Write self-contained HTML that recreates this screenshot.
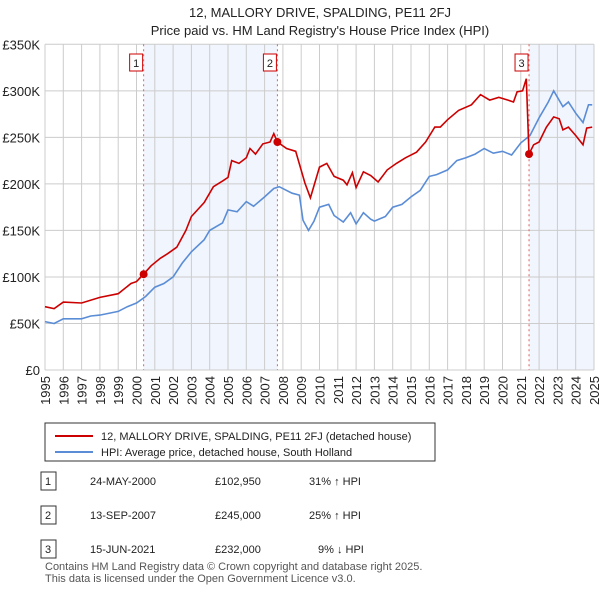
<!DOCTYPE html>
<html><head><meta charset="utf-8"><style>
body{margin:0;background:#fff;font-family:"Liberation Sans",sans-serif;}
svg text{font-family:"Liberation Sans",sans-serif;}
</style></head><body>
<svg id="c" width="600" height="590" xmlns="http://www.w3.org/2000/svg">
<text x="320" y="17" text-anchor="middle" font-size="13" fill="#222">12, MALLORY DRIVE, SPALDING, PE11 2FJ</text>
<text x="320" y="35" text-anchor="middle" font-size="13" fill="#222">Price paid vs. HM Land Registry's House Price Index (HPI)</text>
<g id="plot"></g>
<g>
<rect x="45" y="423" width="390" height="38" fill="#fff" stroke="#333"/>
<line x1="55" y1="436" x2="93" y2="436" stroke="#cc0000" stroke-width="2"/>
<text x="101" y="440" font-size="11" fill="#222">12, MALLORY DRIVE, SPALDING, PE11 2FJ (detached house)</text>
<line x1="55" y1="452" x2="93" y2="452" stroke="#5b8dd6" stroke-width="2"/>
<text x="101" y="456" font-size="11" fill="#222">HPI: Average price, detached house, South Holland</text>
</g>
<g id="tbl" font-size="11" fill="#222"></g>
<text x="45" y="570" font-size="11" fill="#555">Contains HM Land Registry data © Crown copyright and database right 2025.</text>
<text x="45" y="582" font-size="11" fill="#555">This data is licensed under the Open Government Licence v3.0.</text>
</svg>
<script>
const hpiT=[1995,1995.5,1996,1997,1997.5,1998,1999,1999.5,2000,2000.5,2001,2001.5,2002,2002.5,2003,2003.7,2004,2004.7,2005,2005.5,2006,2006.4,2007,2007.5,2007.8,2008.5,2008.9,2009.1,2009.4,2009.7,2010,2010.5,2010.8,2011.3,2011.7,2012,2012.4,2012.8,2013,2013.6,2014,2014.5,2015,2015.5,2016,2016.4,2017,2017.5,2018,2018.5,2019,2019.5,2020,2020.5,2021,2021.5,2022,2022.5,2022.8,2023.3,2023.6,2024,2024.4,2024.7,2024.9];
const hpiV=[52,50,55,55,58,59,63,68,72,79,89,93,100,115,127,140,150,158,172,170,181,176,186,195,197,190,188,161,150,160,175,178,166,159,169,157,169,162,160,165,175,178,186,193,208,210,215,225,228,232,238,233,235,231,244,252,271,288,300,283,288,276,266,285,285];
const ppT=[1995,1995.5,1996,1997,1998,1999,1999.7,2000,2000.39,2000.8,2001.3,2001.7,2002.2,2002.7,2003,2003.7,2004.2,2004.7,2005,2005.2,2005.6,2006,2006.2,2006.5,2006.9,2007.3,2007.5,2007.7,2008.2,2008.7,2009.2,2009.5,2010,2010.4,2010.8,2011.3,2011.5,2011.8,2012,2012.4,2012.8,2013.2,2013.7,2014.2,2014.7,2015.3,2015.8,2016.3,2016.6,2017,2017.6,2018.3,2018.8,2019.3,2019.8,2020.3,2020.6,2020.8,2021.1,2021.3,2021.45,2021.7,2022,2022.4,2022.8,2023.1,2023.3,2023.6,2024,2024.4,2024.6,2024.9];
const ppV=[68,66,73,72,78,82,93,95,103,112,120,125,132,150,165,180,197,203,207,225,222,228,238,232,243,245,254,245,238,235,201,185,218,222,208,204,199,212,196,213,209,202,215,222,228,234,245,261,261,269,279,285,296,290,293,290,288,299,300,313,232,242,245,261,272,270,258,261,252,242,260,261];
const saleT=[2000.39,2007.7,2021.45];
const saleV=[102.95,245,232];
const saleLabels=["1","2","3"];
const saleDates=["24-MAY-2000","13-SEP-2007","15-JUN-2021"];
const salePrices=["£102,950","£245,000","£232,000"];
const saleHpi=["31% ↑ HPI","25% ↑ HPI","9% ↓ HPI"];
const yTicks=[0,50,100,150,200,250,300,350];
const yTickLabels=["£0","£50K","£100K","£150K","£200K","£250K","£300K","£350K"];
const xYears=[1995,1996,1997,1998,1999,2000,2001,2002,2003,2004,2005,2006,2007,2008,2009,2010,2011,2012,2013,2014,2015,2016,2017,2018,2019,2020,2021,2022,2023,2024,2025];

const X0=45,X1=594,Y0=370,Y1=44.3;
const xs=t=>X0+(t-1995)/30*(X1-X0);
const ys=v=>Y0-v/350*(Y0-Y1);
const NS="http://www.w3.org/2000/svg";
const g=document.getElementById('plot');
function mk(tag,attrs,parent){const e=document.createElementNS(NS,tag);for(const k in attrs)e.setAttribute(k,attrs[k]);(parent||g).appendChild(e);return e;}
// shading
let e=mk('rect',{x:xs(saleT[0]),y:Y1,width:xs(saleT[1])-xs(saleT[0]),height:Y0-Y1,fill:'#eef2fc',opacity:0.8});


e=mk('rect',{x:xs(saleT[2]),y:Y1,width:X1-xs(saleT[2]),height:Y0-Y1,fill:'#eef2fc',opacity:0.8});


// grid
yTicks.forEach((v,i)=>{
  let l=mk('line',{x1:X0,x2:X1,y1:ys(v),y2:ys(v),stroke:'#cccccc','stroke-width':1});
  
  
  let t=mk('text',{x:40,y:ys(v)+5,'text-anchor':'end','font-size':13,fill:'#222'});
  t.textContent=yTickLabels[i];
  
  
});
xYears.forEach(y=>{
  let l=mk('line',{x1:xs(y),x2:xs(y),y1:Y1,y2:Y0,stroke:'#cccccc','stroke-width':1});
  
  
  let t=mk('text',{x:0,y:0,'text-anchor':'end','font-size':13,fill:'#222',transform:`translate(${xs(y)+5},376) rotate(-90)`});
  t.textContent=y;
  
  
});
// sale vlines
saleT.forEach((t,i)=>{
  let l=mk('line',{x1:xs(t),x2:xs(t),y1:Y1,y2:Y0,stroke:'#e06060','stroke-width':1,'stroke-dasharray':'2,3'});
  
  
  let r=mk('rect',{x:xs(t)-14,y:54,width:13,height:17,fill:'#fff',stroke:'#cc0000'});
  
  
  let tx=mk('text',{x:xs(t)-7.5,y:67,'text-anchor':'middle','font-size':11,fill:'#222'});
  tx.textContent=saleLabels[i];
  
  
});
function pl(T,V,col){return T.map((t,i)=>xs(t).toFixed(1)+','+ys(V[i]).toFixed(1)).join(' ');}
e=mk('polyline',{points:pl(hpiT,hpiV),fill:'none',stroke:'#5b8dd6','stroke-width':1.6});


e=mk('polyline',{points:pl(ppT,ppV),fill:'none',stroke:'#cc0000','stroke-width':1.6});


saleT.forEach((t,i)=>{
  let c=mk('circle',{cx:xs(t),cy:ys(saleV[i]),r:4,fill:'#cc0000'});
  
  
});
// table
const tb=document.getElementById('tbl');
saleLabels.forEach((s,i)=>{
  const cy=481+i*34;
  let r=mk('rect',{x:41,y:cy-9,width:15,height:18,fill:'#fff',stroke:'#333'},tb);
  
  
  const cells=[[48,s,'middle'],[90,saleDates[i],'start'],[215,salePrices[i],'start'],[290,saleHpi[i],'start']];
  cells.forEach(c=>{
    let t=mk('text',{x:c[0],y:cy+4,'text-anchor':c[2]},tb);
    if(c[2]==='start'&&c[0]===290){t.setAttribute('x',(i===2?318:309));t.setAttribute('text-anchor','start');}
    t.textContent=c[1];
    
    
  });
});
</script>
</body></html>
